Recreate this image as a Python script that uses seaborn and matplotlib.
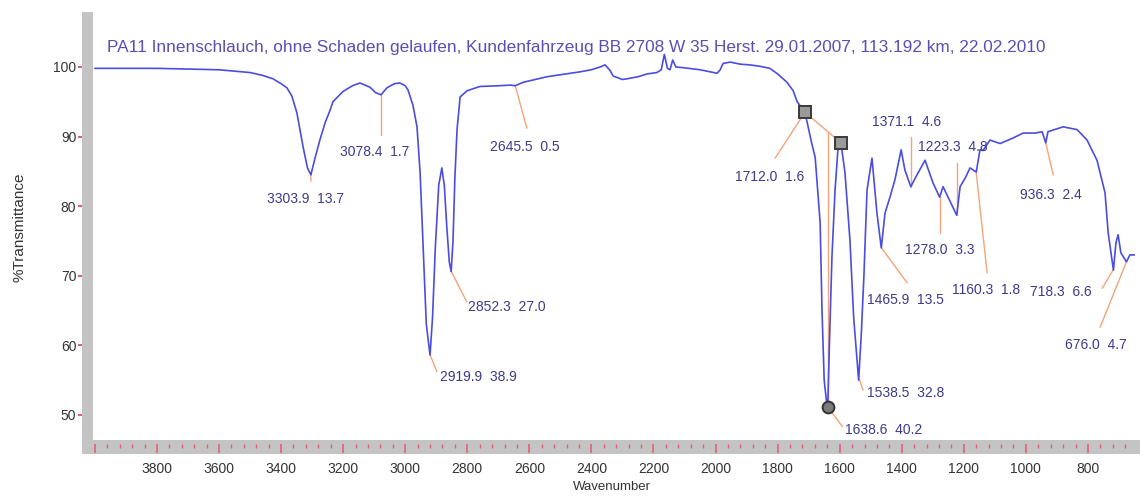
import numpy as np
import pandas as pd
import matplotlib
matplotlib.use("Agg")
import matplotlib.pyplot as plt
import seaborn as sns
from matplotlib.patches import Rectangle
from matplotlib.ticker import FixedLocator, NullFormatter

# IR spectrum: wavenumber (cm-1) and % transmittance
wavenumber = [
    4000, 3900, 3800, 3700, 3600, 3550, 3500, 3460, 3426, 3400, 3381, 3365,
    3349, 3329, 3315, 3304, 3290, 3275, 3258, 3242, 3233, 3200, 3170, 3146,
    3114, 3095, 3078, 3059, 3035, 3017, 3000, 2991, 2975, 2962, 2952, 2942,
    2932, 2920, 2912, 2903, 2892, 2882, 2874, 2866, 2858, 2852, 2846, 2840,
    2833, 2823, 2800, 2759, 2700, 2660, 2646, 2620, 2543, 2437, 2400, 2372,
    2356, 2340, 2330, 2300, 2285, 2250, 2221, 2189, 2175, 2165, 2155, 2147,
    2138, 2128, 2105, 2050, 1995, 1985, 1976, 1953, 1920, 1889, 1857, 1825,
    1800, 1770, 1750, 1737, 1712, 1690, 1679, 1663, 1657, 1650, 1639, 1632,
    1625, 1615, 1606, 1596, 1583, 1567, 1555, 1539, 1530, 1522, 1512, 1496,
    1480, 1466, 1454, 1438, 1422, 1402, 1390, 1371, 1357, 1325, 1299, 1278,
    1267, 1251, 1223, 1212, 1196, 1180, 1160, 1148, 1138, 1116, 1083, 1041,
    1009, 970, 948, 936, 929, 880, 835, 803, 771, 745, 735, 718, 710, 703,
    694, 676, 665, 648,
]
transmittance = [
    99.8, 99.8, 99.8, 99.7, 99.6, 99.4, 99.2, 98.8, 98.3, 97.6, 97.0, 95.8,
    93.4, 88.5, 85.5, 84.5, 87.0, 89.5, 92.0, 93.8, 95.0, 96.5, 97.3, 97.7,
    97.1, 96.3, 96.0, 97.0, 97.6, 97.7, 97.3, 96.7, 94.5, 91.4, 84.8, 74.0,
    63.0, 58.6, 64.0, 74.0, 83.0, 85.5, 83.0, 77.0, 72.0, 70.6, 75.0, 84.0,
    91.0, 95.7, 96.6, 97.2, 97.3, 97.4, 97.3, 97.8, 98.6, 99.3, 99.6, 100.0,
    100.3, 99.5, 98.7, 98.2, 98.3, 98.6, 99.0, 99.2, 99.6, 101.8, 99.8, 99.6,
    101.0, 100.0, 99.9, 99.6, 99.1, 99.6, 100.5, 100.7, 100.4, 100.3, 100.1, 99.8,
    99.0, 97.8, 96.6, 95.0, 93.5, 89.0, 87.0, 77.6, 65.0, 55.0, 50.5, 62.0,
    72.7, 82.3, 88.0, 89.1, 84.8, 75.1, 64.0, 55.0, 62.0, 70.0, 82.3, 86.9,
    79.0, 74.0, 79.0, 81.3, 83.8, 88.1, 85.2, 82.8, 84.0, 86.6, 83.3, 81.3,
    82.8, 81.3, 78.7, 82.8, 84.0, 85.5, 84.9, 88.1, 88.0, 89.5, 89.0, 89.8,
    90.5, 90.5, 90.7, 89.1, 90.7, 91.4, 91.0, 89.5, 86.6, 81.9, 76.2, 70.8,
    74.7, 75.9, 73.3, 72.0, 73.0, 73.0,
]

# picked peaks: position and band depth
peak_wn = [3303.9, 3078.4, 2919.9, 2852.3, 2645.5, 1712.0, 1638.6, 1538.5,
           1465.9, 1371.1, 1278.0, 1223.3, 1160.3, 936.3, 718.3, 676.0]
peak_depth = [13.7, 1.7, 38.9, 27.0, 0.5, 1.6, 40.2, 32.8,
              13.5, 4.6, 3.3, 4.8, 1.8, 2.4, 6.6, 4.7]

# baseline anchors for the 1638.6 band
baseline_wn = [1712.0, 1596.0]
marked_peak = 1638.6

title = ("PA11 Innenschlauch, ohne Schaden gelaufen, Kundenfahrzeug BB 2708 W 35 "
         "Herst. 29.01.2007, 113.192 km, 22.02.2010")
xtick_values = [4000, 3800, 3600, 3400, 3200, 3000, 2800, 2600, 2400, 2200,
                2000, 1800, 1600, 1400, 1200, 1000, 800]
xtick_labels = ["", "3800", "3600", "3400", "3200", "3000", "2800", "2600",
                "2400", "2200", "2000", "1800", "1600", "1400", "1200", "1000", "800"]
ytick_values = [50, 60, 70, 80, 90, 100]
ytick_labels = ["50", "60", "70", "80", "90", "100"]

# label placement: (text left x, text y, leader end x, leader end y)
label_layout = [
    (3446, 81.0, 3304, 83.6),
    (3210, 87.8, 3078.4, 90.2),
    (2888, 55.5, 2898, 56.2),
    (2798, 65.5, 2801, 66.2),
    (2727, 88.5, 2608, 91.2),
    (1937, 84.2, 1808, 86.9),
    (1583, 47.8, 1591, 48.3),
    (1512, 53.2, 1525, 53.6),
    (1512, 66.5, 1383, 69.0),
    (1496, 92.1, 1371.1, 90.0),
    (1390, 73.7, 1278.0, 76.1),
    (1348, 88.5, 1223.3, 86.2),
    (1238, 68.0, 1125, 70.4),
    (1019, 81.6, 912, 84.5),
    (987, 67.7, 754, 68.2),
    (874, 60.0, 761, 62.6),
]

LINE = "#4b4de0"
TITLE_C = "#5b4fb4"
LABEL_C = "#3d3a8f"
LEADER = "#f2a47a"
TICK_C = "#e0607a"
BAND = "#c4c4c4"
TEXT_C = "#333333"

sns.set_style("white")
plt.rcParams["font.family"] = ["Liberation Sans", "DejaVu Sans"]

W, H = 1140, 500
fig = plt.figure(figsize=(W / 100, H / 100), dpi=100)
ax = fig.add_axes([93 / W, 60 / H, 1042 / W, 428 / H])

df = pd.DataFrame({"Wavenumber": wavenumber, "Transmittance": transmittance})
sns.lineplot(data=df, x="Wavenumber", y="Transmittance", ax=ax, color=LINE,
             lw=1.2, sort=False, estimator=None, zorder=3)

ax.set_xlim(4006, 648.5)
ax.set_ylim(46.4, 107.9)

# grey frame bands along the left and bottom edges
ax_w, ax_h = 1042, 428
ax.add_patch(Rectangle((-11 / ax_w, -14 / ax_h), 11 / ax_w, 1 + 14 / ax_h,
                       transform=ax.transAxes, clip_on=False, facecolor=BAND,
                       lw=0, zorder=0.5))
ax.add_patch(Rectangle((-11 / ax_w, -14 / ax_h), 1.02, 14 / ax_h,
                       transform=ax.transAxes, clip_on=False, facecolor=BAND,
                       lw=0, zorder=0.5))
for s in ax.spines.values():
    s.set_visible(False)
ax.spines["bottom"].set_position(("outward", 3))
ax.spines["left"].set_position(("outward", 8))

ax.xaxis.set_major_locator(FixedLocator(xtick_values))
ax.set_xticklabels(xtick_labels)
minor = [v for v in range(680, 4001, 40) if v % 200]
ax.xaxis.set_minor_locator(FixedLocator(minor))
ax.xaxis.set_minor_formatter(NullFormatter())
ax.set_yticks(ytick_values)
ax.set_yticklabels(ytick_labels)

ax.tick_params(axis="x", which="major", bottom=True, direction="out", length=6.5,
               width=1.2, color=TICK_C, pad=6, labelsize=10, labelcolor=TEXT_C)
ax.tick_params(axis="x", which="minor", bottom=True, direction="out", length=3,
               width=1.0, color=TICK_C)
ax.tick_params(axis="y", which="major", left=True, direction="out", length=3,
               width=1.5, color=TICK_C, pad=1, labelsize=10, labelcolor=TEXT_C)

ax.set_xlabel("Wavenumber", fontsize=9.5, color=TEXT_C)
ax.xaxis.set_label_coords(0.498, -0.096)
ax.xaxis.label.set_va("top")
ax.set_ylabel("%Transmittance", fontsize=11, color=TEXT_C)
ax.yaxis.set_label_coords(-0.064, 0.498)

ax.text(0.0134, 0.918, title, transform=ax.transAxes, fontsize=12.4,
        color=TITLE_C, va="center", ha="left")

# peak labels with leader lines
wn_sorted = np.array(wavenumber[::-1], dtype=float)
t_sorted = np.array(transmittance[::-1], dtype=float)
for wn, depth, (tx, ty, lx, ly) in zip(peak_wn, peak_depth, label_layout):
    py = np.interp(wn, wn_sorted, t_sorted)
    ax.plot([wn, lx], [py, ly], color=LEADER, lw=1.0, zorder=2)
    ax.text(tx, ty, f"{wn:.1f}  {depth:.1f}", fontsize=10, color=LABEL_C,
            ha="left", va="center", zorder=4)

# baseline construction for the strongest band
by = [np.interp(b, wn_sorted, t_sorted) for b in baseline_wn]
ax.plot(baseline_wn, by, color=LEADER, lw=1.0, zorder=2)
base_at_peak = np.interp(marked_peak, baseline_wn[::-1], by[::-1])
peak_min = np.interp(marked_peak, wn_sorted, t_sorted)
ax.plot([marked_peak, marked_peak], [base_at_peak, peak_min], color=LEADER,
        lw=1.0, zorder=2)
ax.plot(baseline_wn, by, ls="none", marker="s", ms=8.5, mfc="#9a9a9a",
        mec="#3a3a3a", mew=1.4, zorder=5)
ax.plot([marked_peak], [peak_min], ls="none", marker="o", ms=8.5, mfc="#7a7a7a",
        mec="#333333", mew=1.4, zorder=5)

fig.savefig("out.png", dpi=100, facecolor="white")
